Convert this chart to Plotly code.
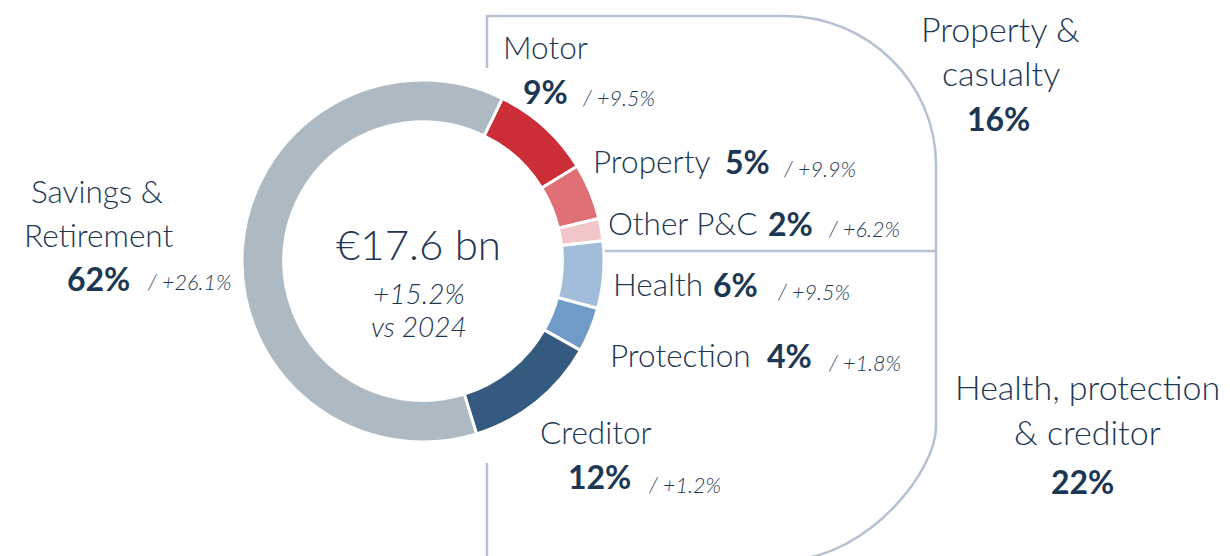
import plotly.graph_objects as go

# segment data (clockwise from Motor)
segments = ["Motor", "Property", "Other P&C", "Health", "Protection", "Creditor", "Savings & Retirement"]
shares = [9, 5, 2, 6, 4, 12, 62]
growth = ["+9.5%", "+9.9%", "+6.2%", "+9.5%", "+1.8%", "+1.2%", "+26.1%"]

groups = ["Property &<br>casualty", "Health, protection<br>& creditor"]
group_shares = [16, 22]

total_label = "€17.6 bn"
total_growth = "+15.2%"
compare_year = "vs 2024"

colors = ["#cc2e37", "#de7076", "#f2c5c8", "#a1bdda", "#6f9bc6", "#345a80", "#adb9c3"]
NAVY = "#1c3753"
LINE = "#b6c2d1"
FONT = "Lato"

W, H = 1230, 556
cx, cy, r = 423, 261, 181

fig = go.Figure()

fig.add_trace(go.Pie(
    labels=segments,
    values=shares,
    sort=False,
    direction="clockwise",
    rotation=26,
    hole=0.77,
    marker=dict(colors=colors, line=dict(color="white", width=3)),
    textinfo="none",
    hoverinfo="label+value",
    showlegend=False,
    domain=dict(x=[(cx - r) / W, (cx + r) / W],
                y=[(H - cy - r) / H, (H - cy + r) / H]),
))

# label placement: name (x, y), pct (x, y), growth (x, y) -- left anchored
name_pos = {
    "Motor": (501, 47),
    "Property": (591, 161),
    "Other P&C": (606, 223),
    "Health": (611, 284),
    "Protection": (608, 355),
    "Creditor": (538, 432),
}
pct_pos = [(521, 91), (723, 161), (766, 223), (711, 284), (765, 355), (566, 476), (65, 278)]
growth_pos = [(580, 98), (781, 169), (826, 229), (775, 292), (826, 363), (646, 485), (145, 282)]

LBL, PCT, SMALL, GRP = 31.5, 32, 21.5, 34

ann = []

def add_text(text, x, y, size, xanchor="left", bold=False, italic=False):
    if bold:
        text = f"<b>{text}</b>"
    if italic:
        text = f"<i>{text}</i>"
    ann.append(dict(text=text, x=x, y=y, xref="x", yref="y", xanchor=xanchor,
                    yanchor="middle", showarrow=False,
                    font=dict(family=FONT, size=size, color=NAVY, weight=300)))

for i, seg in enumerate(segments):
    if seg in name_pos:
        add_text(seg, *name_pos[seg], LBL)
    add_text(f"{shares[i]}%", *pct_pos[i], PCT, bold=True)
    add_text(f"/ {growth[i]}", *growth_pos[i], SMALL, italic=True)

# savings label is split over two centred lines
sav1, sav2 = "Savings &", "Retirement"
add_text(sav1, 97, 191, LBL, xanchor="center")
add_text(sav2, 98, 235, LBL, xanchor="center")

# group labels
g1 = groups[0].split("<br>")
add_text(g1[0], 1000, 28, GRP, xanchor="center")
add_text(g1[1], 1001, 72, GRP, xanchor="center")
add_text(f"{group_shares[0]}%", 998, 118, PCT, xanchor="center", bold=True)
g2 = groups[1].split("<br>")
add_text(g2[0], 1087, 386, GRP, xanchor="center")
add_text(g2[1], 1087, 431, GRP, xanchor="center")
add_text(f"{group_shares[1]}%", 1082, 481, PCT, xanchor="center", bold=True)

# centre of donut
add_text(total_label, 418, 244, 42, xanchor="center")
add_text(total_growth, 419, 293, 28, xanchor="center", italic=True)
add_text(compare_year, 419, 326, 28, xanchor="center", italic=True)

line = dict(color=LINE, width=2.5)
shapes = [
    # top bracket: P&C
    dict(type="path", path="M 487,68 L 487,16 L 785,16 C 868,16 936,83 936,165 L 936,427",
         line=line, xref="x", yref="y"),
    # divider between P&C and health group
    dict(type="line", x0=605, y0=251, x1=936, y1=251, line=line, xref="x", yref="y"),
    # bottom bracket
    dict(type="path", path="M 936,427 C 936,470 870,556 790,560", line=line, xref="x", yref="y"),
    dict(type="line", x0=487, y0=463, x1=487, y1=560, line=line, xref="x", yref="y"),
]

fig.update_layout(
    width=W, height=H,
    margin=dict(l=0, r=0, t=0, b=0),
    paper_bgcolor="white", plot_bgcolor="rgba(0,0,0,0)",
    xaxis=dict(range=[0, W], visible=False, fixedrange=True),
    yaxis=dict(range=[H, 0], visible=False, fixedrange=True),
    annotations=ann,
    shapes=shapes,
    font=dict(family=FONT, color=NAVY),
)

fig.write_html("out.html", config={"displayModeBar": False},
               post_script="document.body.style.margin='0';")
